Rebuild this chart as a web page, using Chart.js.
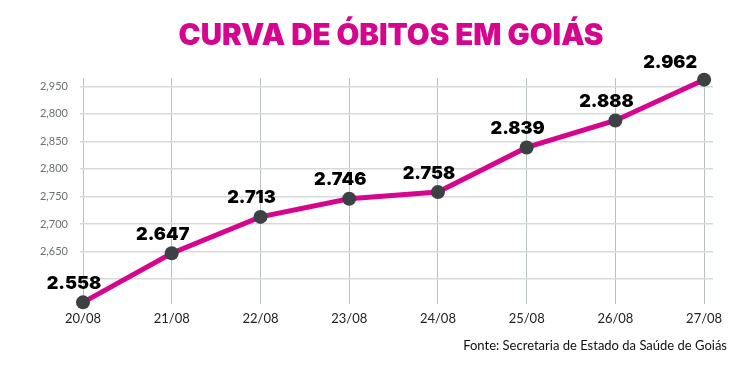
<!DOCTYPE html>
<html>
<head>
<meta charset="utf-8">
<script src="https://cdn.jsdelivr.net/npm/chart.js@4/dist/chart.umd.min.js"></script>
<style>
  body { margin: 0; background: #fff; }
</style>
</head>
<body>
<canvas id="obitos" width="756" height="387"></canvas>
<script>
var dates = ['20/08', '21/08', '22/08', '23/08', '24/08', '25/08', '26/08', '27/08'];
var deaths = [2558, 2647, 2713, 2746, 2758, 2839, 2888, 2962];
var yTickValues = [2600, 2650, 2700, 2750, 2800, 2850, 2900, 2950];
var yTickLabels = ['', '2,650', '2,700', '2,750', '2,800', '2,850', '2,800', '2,950'];

var magenta = '#d6058e';

function fmt(v) {
    return String(v).replace(/(\d)(\d{3})$/, '$1.$2');
}

// titulo, rótulos dos pontos e fonte
var labelsPlugin = {
    id: 'pointLabels',
    afterDraw: function(chart) {
        var ctx = chart.ctx;
        var meta = chart.getDatasetMeta(0);
        ctx.save();
        ctx.textBaseline = 'middle';
        ctx.font = '900 29.5px Inter';
        ctx.fillStyle = magenta;
        ctx.textAlign = 'center';
        ctx.fillText('CURVA DE ÓBITOS EM GOIÁS', 391, 36);

        ctx.font = '900 18px Inter';
        ctx.fillStyle = '#000';
        meta.data.forEach(function(pt, i) {
            if (i === meta.data.length - 1) {
                ctx.textAlign = 'right';
                ctx.fillText(fmt(deaths[i]), pt.x - 7, pt.y - 17);
            } else {
                ctx.textAlign = 'center';
                ctx.fillText(fmt(deaths[i]), pt.x - 9, pt.y - 19);
            }
        });
        ctx.font = '13px Lato';
        ctx.fillStyle = '#111';
        ctx.textAlign = 'right';
        ctx.fillText('Fonte: Secretaria de Estado da Saúde de Goiás', 727, 346);
        ctx.restore();
    }
};

new Chart(document.getElementById('obitos').getContext('2d'), {
    type: 'line',
    data: {
        datasets: [
            {
                data: deaths.map(function(v, i) { return { x: i, y: v }; }),
                borderColor: magenta,
                borderWidth: 5,
                pointRadius: 7,
                pointBackgroundColor: '#3c4143',
                pointBorderWidth: 0,
                tension: 0,
                clip: false
            }
        ]
    },
    options: {
        responsive: false,
        animation: false,
        layout: { padding: { left: 0, right: 43, top: 78, bottom: 0 } },
        plugins: {
            legend: { display: false },
            tooltip: { enabled: false }
        },
        scales: {
            x: {
                type: 'linear',
                min: 0,
                max: 7.1,
                afterBuildTicks: function(scale) {
                    scale.ticks = dates.map(function(d, i) { return { value: i }; });
                },
                afterFit: function(scale) { scale.height = 83; },
                border: { display: false },
                grid: { color: '#b9c1c1', lineWidth: 1, drawTicks: false },
                ticks: {
                    padding: 7,
                    color: '#222',
                    font: { family: 'Lato', size: 13 },
                    maxRotation: 0,
                    callback: function(v) { return dates[v]; }
                }
            },
            y: {
                min: 2555,
                max: 2965,
                afterBuildTicks: function(scale) {
                    scale.ticks = yTickValues.map(function(v) { return { value: v }; });
                },
                afterFit: function(scale) { scale.width = 83; },
                border: { display: false },
                grid: { color: '#d6dbda', lineWidth: 1.5, tickLength: 3 },
                ticks: {
                    padding: 12,
                    color: '#6b7070',
                    font: { family: 'Lato', size: 11 },
                    callback: function(v) { return yTickLabels[yTickValues.indexOf(v)]; }
                }
            }
        }
    },
    plugins: [labelsPlugin]
});
</script>
</body>
</html>
